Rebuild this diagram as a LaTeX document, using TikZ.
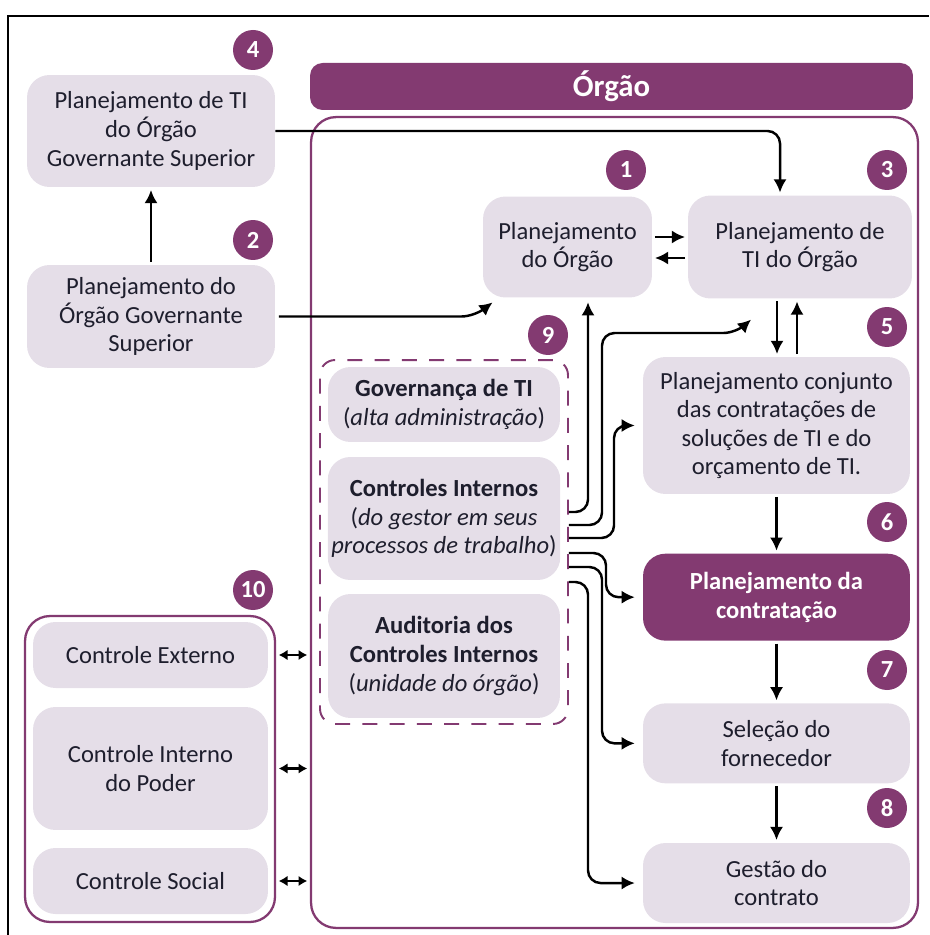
\documentclass[tikz,border=0pt]{standalone}
\usepackage{fontspec}
\setmainfont{Carlito}
\usetikzlibrary{arrows.meta, positioning, calc}
\definecolor{orgPurple}{RGB}{131,58,113}
\definecolor{lilacBox}{RGB}{229,222,232}
\definecolor{inkDark}{RGB}{30,30,45}

\begin{document}
\begin{tikzpicture}[x=0.02cm, y=-0.02cm,
    box/.style={rectangle, fill=lilacBox, rounded corners=0.45cm, align=center, text=inkDark, font=\fontsize{14}{16.3}\selectfont, inner sep=2pt},
    darkbox/.style={box, fill=orgPurple, text=white, font=\fontsize{14}{16.3}\selectfont\bfseries},
    badge/.style={circle, fill=orgPurple, text=white, minimum size=0.8cm, inner sep=0pt, font=\fontsize{14}{14}\selectfont\bfseries},
    groupframe/.style={rectangle, draw=orgPurple, line width=1.3pt, rounded corners=0.5cm},
    flow/.style={-{Latex[length=7.5pt, width=7.5pt]}, line width=1.4pt, rounded corners=0.25cm, shorten >=1.5pt},
    biarrow/.style={{Latex[length=5pt, width=6pt]}-{Latex[length=5pt, width=6pt]}, line width=1.3pt, shorten <=1.5pt, shorten >=1.5pt}
]
\useasboundingbox (0,0) rectangle (929,935);
\draw[line width=0.8pt] (8,935) -- (8,16) -- (929,16);

\node[rectangle, fill=orgPurple, rounded corners=0.25cm, minimum width=12.06cm, minimum height=0.94cm, text=white, font=\fontsize{17.5}{20}\selectfont\bfseries] (orgao) at (611.5,86.5) {Órgão};
\node[groupframe, minimum width=12.14cm, minimum height=16.22cm] (orgbox) at (614.5,522.5) {};

\node[box, minimum width=4.96cm, minimum height=2.24cm] (tigov) at (151,131) {Planejamento de TI\\do Órgão\\Governante Superior};
\node[box, minimum width=4.96cm, minimum height=2.06cm] (plangov) at (151,316.5) {Planejamento do\\Órgão Governante\\Superior};
\node[box, minimum width=3.38cm, minimum height=2.02cm] (planorg) at (567.5,247) {Planejamento\\do Órgão};
\node[box, minimum width=4.48cm, minimum height=2.06cm] (tiorg) at (800,247) {Planejamento de\\TI do Órgão};
\node[box, minimum width=5.34cm, minimum height=2.74cm] (conjunto) at (776.5,425.5) {Planejamento conjunto\\das contratações de\\soluções de TI e do\\orçamento de TI.};
\node[darkbox, minimum width=5.34cm, minimum height=1.74cm, below=1.18cm of conjunto] (contratacao) {Planejamento da\\contratação};
\node[box, minimum width=5.34cm, minimum height=1.6cm, below=1.24cm of contratacao] (selecao) {Seleção do\\fornecedor};
\node[box, minimum width=5.34cm, minimum height=1.6cm, below=1.18cm of selecao] (gestao) {Gestão do\\contrato};

\node[rectangle, draw=orgPurple, line width=1.1pt, dash pattern=on 8.5pt off 7pt, rounded corners=0.3cm, minimum width=4.96cm, minimum height=7.28cm] (grp9) at (444,542) {};
\node[box, minimum width=4.64cm, minimum height=1.5cm] (govti) at (444,404.5) {\textbf{Governança de TI}\\(\textit{alta administração})};
\node[box, minimum width=4.64cm, minimum height=2.46cm] (ctrlint) at (444,518.5) {\textbf{Controles Internos}\\(\textit{do gestor em seus}\\\textit{processos de trabalho})};
\node[box, minimum width=4.64cm, minimum height=2.48cm] (auditoria) at (444,656) {\textbf{Auditoria dos}\\\textbf{Controles Internos}\\(\textit{unidade do órgão})};

\node[groupframe, minimum width=5cm, minimum height=6.12cm] (grp10) at (150,769) {};
\node[box, minimum width=4.7cm, minimum height=1.32cm] (externo) at (150.5,655) {Controle Externo};
\node[box, minimum width=4.7cm, minimum height=2.46cm] (interno) at (150.5,768.5) {Controle Interno\\do Poder};
\node[box, minimum width=4.7cm, minimum height=1.32cm] (social) at (150.5,881) {Controle Social};

\node[badge] (n1) at (626,170) {1};
\node[badge] (n2) at (253,240) {2};
\node[badge] (n3) at (887,170) {3};
\node[badge] (n4) at (253,50) {4};
\node[badge] (n5) at (887,327) {5};
\node[badge] (n6) at (887,522) {6};
\node[badge] (n7) at (887,670) {7};
\node[badge] (n8) at (887,808) {8};
\node[badge] (n9) at (548,335) {9};
\node[badge] (n10) at (253,590) {10};

\draw[flow, shorten <=1.5pt] (plangov) -- (tigov);
\draw[flow] (tigov.east) -| ([xshift=-0.4cm]tiorg.north);
\draw[flow] ([xshift=2pt]plangov.east) -- (plangov.east -| 474,0) -- ($(planorg.south west)+(12,3)$);
\draw[flow, shorten <=1.5pt] ([yshift=0.2cm]planorg.east) -- ([yshift=0.2cm]tiorg.west);
\draw[flow, shorten <=1.5pt] ([yshift=-0.22cm]tiorg.west) -- ([yshift=-0.22cm]planorg.east);
\draw[flow, shorten <=1.5pt] ($(tiorg.south)+(-23,0)$) -- ($(tiorg.south |- conjunto.north)+(-23,0)$);
\draw[flow, shorten <=1.5pt] ($(tiorg.south |- conjunto.north)+(-3,0)$) -- ($(tiorg.south)+(-3,0)$);
\draw[flow, shorten <=1.5pt] (conjunto) -- (contratacao);
\draw[flow, shorten <=1.5pt] (contratacao) -- (selecao);
\draw[flow, shorten <=1.5pt] (selecao) -- (gestao);

\draw[flow, shorten >=2.5pt] (grp9.east |- 0,512) -| (588,0 |- planorg.south);
\draw[flow] (grp9.east |- 0,525) -- (602,525) -- (602,333) -- (736,333) -- ($(tiorg.south)+(-47,19)$);
\draw[flow, shorten >=4.5pt] (grp9.east |- 0,538) -- (614,538) |- (conjunto.west);
\draw[flow, shorten >=4.5pt] (grp9.east |- 0,553) -- (606,553) |- (contratacao.west);
\draw[flow, shorten >=4.5pt] (grp9.east |- 0,567) -- (602,567) |- (selecao.west);
\draw[flow, shorten >=4.5pt] (grp9.east |- 0,582) -- (588,582) |- (gestao.west);

\draw[biarrow] (externo.east -| grp10.east) -- (externo.east -| orgbox.west);
\draw[biarrow] (interno.east -| grp10.east) -- (interno.east -| orgbox.west);
\draw[biarrow] (social.east -| grp10.east) -- (social.east -| orgbox.west);
\end{tikzpicture}
\end{document}
